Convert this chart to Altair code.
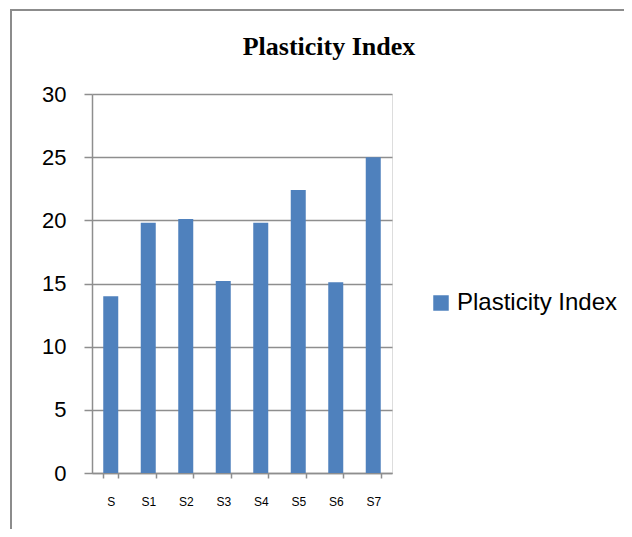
import altair as alt
import pandas as pd

categories = ["S", "S1", "S2", "S3", "S4", "S5", "S6", "S7"]
values = [14.0, 19.8, 20.1, 15.2, 19.8, 22.4, 15.1, 25.0]
series_name = "Plasticity Index"
y_ticks = [0, 5, 10, 15, 20, 25, 30]

df = pd.DataFrame({"cat": categories, "val": values, "series": [series_name] * len(categories)})

W, H = 300, 379
PAD = {"left": 84, "top": 86, "right": 232, "bottom": 56}
GRID = "#8e8e8e"

bars = alt.Chart(df).mark_bar(color="#4f81bd").encode(
    x=alt.X("cat:N", sort=categories, title=None,
            scale=alt.Scale(paddingInner=0.6, paddingOuter=0.3),
            axis=alt.Axis(labelAngle=0, labelFont="Liberation Sans", labelFontSize=12,
                          labelColor="#000000", labelPadding=18, tickSize=5,
                          tickBand="extent", tickColor=GRID, domainColor=GRID,
                          domainWidth=1.5, tickWidth=1.5)),
    y=alt.Y("val:Q", title=None,
            scale=alt.Scale(domain=[0, 30], nice=False),
            axis=alt.Axis(values=y_ticks, labelFont="Liberation Sans", labelFontSize=22,
                          labelColor="#000000", labelPadding=18, tickSize=8,
                          tickColor=GRID, domainColor=GRID, gridColor=GRID,
                          gridWidth=1.5, domainWidth=1.5, tickWidth=1.5, grid=True)),
    fill=alt.Fill("series:N", scale=alt.Scale(range=["#4f81bd"]),
                  legend=alt.Legend(title=None, orient="none", legendX=337, legendY=197,
                                    symbolType="square", symbolSize=240,
                                    symbolStrokeWidth=0, labelFont="Liberation Sans",
                                    labelFontSize=24, labelColor="#000000",
                                    labelOffset=4, labelLimit=0)),
)

frame_top = alt.Chart(df).mark_rule(color="#8c8c8c", strokeWidth=2).encode(
    x=alt.value(-81), x2=alt.value(540), y=alt.value(-84)
)
frame_left = alt.Chart(df).mark_rule(color="#8c8c8c", strokeWidth=2).encode(
    x=alt.value(-81), y=alt.value(-85), y2=alt.value(450)
)

chart = alt.layer(bars, frame_top, frame_left).properties(
    width=W, height=H,
    autosize=alt.AutoSizeParams(type="none"),
    padding=PAD,
    title=alt.TitleParams(series_name, font="Liberation Serif", fontSize=26,
                          fontWeight="bold", color="#000000", anchor="middle",
                          dx=87, dy=72, offset=20),
).configure_view(stroke=None).configure(background="white")

chart.save("out.html", embed_options={"renderer": "svg", "actions": False})
